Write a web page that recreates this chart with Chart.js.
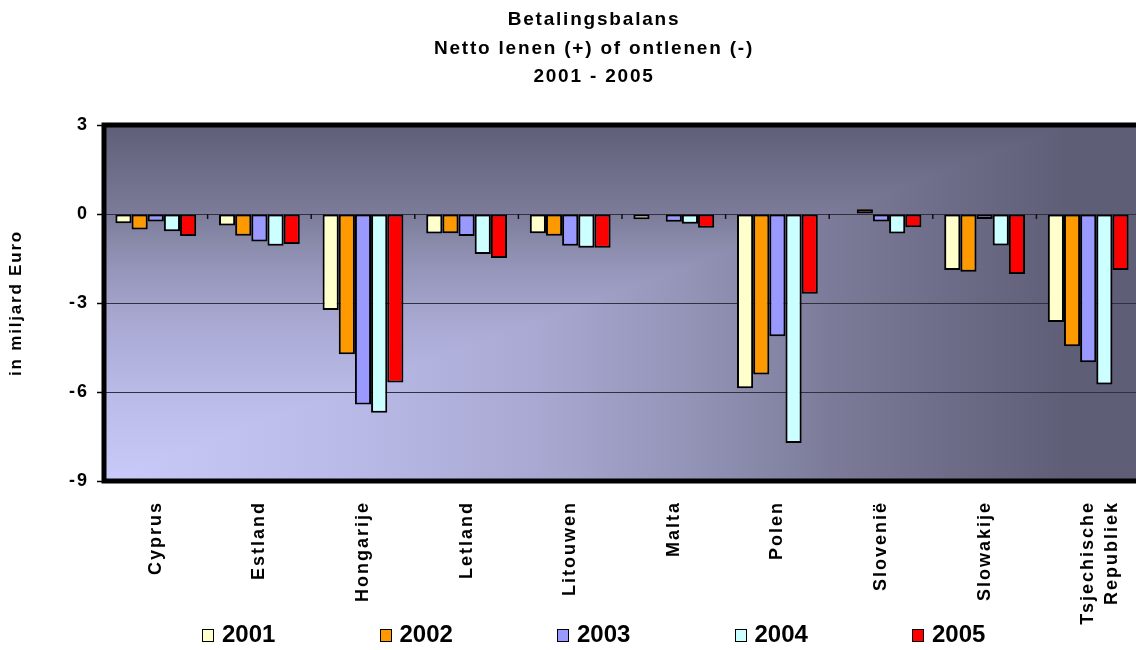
<!DOCTYPE html>
<html lang="nl">
<head>
  <meta charset="utf-8">
  <title>Betalingsbalans 2001 - 2005</title>
  <script src="https://cdn.jsdelivr.net/npm/chart.js@4.4.0/dist/chart.umd.min.js"></script>
  <style>
      html,body{margin:0;padding:0;background:#fff;overflow:hidden;}
      body{width:1136px;height:650px;position:relative;font-family:'Liberation Sans',Arial,sans-serif;}
      #chart{position:absolute;left:0;top:0;}
      #legend{position:absolute;left:202px;top:622px;display:flex;}
      #legend .item{display:flex;align-items:center;width:177.5px;}
      #legend .box{width:10px;height:11px;border:1.5px solid #000;margin-top:2px;}
      #legend .txt{margin-left:8px;font-weight:bold;font-size:24px;line-height:24px;color:#000;}
  </style>
</head>
<body>

<!-- the original chart is wider than the picture and cut off at the right -->
<canvas id="chart" width="1188" height="650"></canvas>
<div id="legend"></div>

<script>
/* ---------------- data ---------------- */
const countries = ['Cyprus','Estland','Hongarije','Letland','Litouwen',
                   'Malta','Polen','Slovenië','Slowakije',['Tsjechische','Republiek']];
const years  = ['2001','2002','2003','2004','2005'];
const colors = ['#ffffcc','#ff9900','#9999ff','#ccffff','#ff0000'];

const s2001 = [-0.31,-0.39,-3.24,-0.66,-0.65,-0.18,-5.87, null,-1.89,-3.64];
const s2002 = [-0.52,-0.73,-4.73,-0.65,-0.73, null,-5.41, 0.16,-1.95,-4.46];
const s2003 = [-0.25,-0.93,-6.42,-0.74,-1.07,-0.26,-4.12,-0.25,-0.17,-5.00];
const s2004 = [-0.58,-1.07,-6.70,-1.35,-1.14,-0.33,-7.72,-0.66,-1.06,-5.75];
const s2005 = [-0.74,-1.01,-5.68,-1.48,-1.14,-0.46,-2.69,-0.45,-2.02,-1.89];
const series = [s2001,s2002,s2003,s2004,s2005];

const yTicks = [3,0,-3,-6,-9];

const FONT = "'Liberation Sans', Arial, sans-serif";

/* ---------------- plugins ---------------- */
// Excel-like gradient from the lower left corner (rectangular)
const plotBg = {
  id:'plotBg',
  beforeDraw(chart){
    const {ctx, chartArea:{left,top,right,bottom}} = chart;
    const stops = [[0,'#cacafa'],[0.25,'#babae8'],[0.45,'#a8a8d2'],[0.6,'#9595b9'],[0.75,'#7c7c9a'],[1,'#5e5e77']];
    const W = right-left, H = bottom-top, Wg = W*0.93;
    ctx.save();
    let g = ctx.createLinearGradient(left,0,left+Wg,0);
    stops.forEach(s=>g.addColorStop(s[0],s[1]));
    ctx.fillStyle = g;
    ctx.fillRect(left,top,W,H);
    ctx.beginPath();
    ctx.moveTo(left,bottom); ctx.lineTo(left,top); ctx.lineTo(left+Wg,top); ctx.closePath();
    ctx.clip();
    g = ctx.createLinearGradient(0,bottom,0,top);
    stops.forEach(s=>g.addColorStop(s[0],s[1]));
    ctx.fillStyle = g;
    ctx.fillRect(left,top,W,H);
    ctx.restore();
    ctx.letterSpacing = '1.8px';
  },
  beforeDatasetsDraw(chart){
    // small category ticks on the zero line
    const {ctx, scales:{x,y}} = chart;
    const y0 = y.getPixelForValue(0);
    ctx.save();
    ctx.strokeStyle = '#111';
    ctx.lineWidth = 1.5;
    for(let i=1;i<countries.length;i++){
      const px = (x.getPixelForValue(i-1)+x.getPixelForValue(i))/2;
      ctx.beginPath(); ctx.moveTo(px,y0); ctx.lineTo(px,y0+5); ctx.stroke();
    }
    ctx.restore();
  },
  afterDatasetsDraw(chart){
    chart.ctx.letterSpacing = '2px';
  },
  afterDraw(chart){
    const {ctx, chartArea:{left,top,right,bottom}} = chart;
    ctx.letterSpacing = '0px';
    ctx.save();
    ctx.strokeStyle = '#000';
    ctx.lineWidth = 5;
    ctx.strokeRect(left,top,right-left,bottom-top);
    ctx.restore();
  }
};

/* ---------------- chart ---------------- */
new Chart(document.getElementById('chart'), {
  type:'bar',
  data:{
    labels:countries,
    datasets:years.map((yr,i)=>({
      label:yr,
      data:series[i],
      backgroundColor:colors[i],
      borderColor:'#000',
      borderWidth:2,
      borderSkipped:false,
      categoryPercentage:0.78,
      barPercentage:1.0
    }))
  },
  options:{
    responsive:false,
    animation:false,
    events:[],
    layout:{padding:0},
    plugins:{
      legend:{display:false},
      tooltip:{enabled:false},
      title:{
        display:true,
        text:['Betalingsbalans','Netto lenen (+) of ontlenen (-)','2001 - 2005'],
        color:'#000',
        font:{family:FONT,size:19,weight:'bold',lineHeight:1.5},
        padding:{top:6,bottom:33.5}
      }
    },
    scales:{
      x:{
        grid:{display:false,drawTicks:false},
        border:{display:false},
        ticks:{
          z:1,
          minRotation:90,maxRotation:90,autoSkip:false,
          padding:20,
          color:'#000',
          font:{family:FONT,size:18,weight:'bold',lineHeight:1.35}
        },
        afterFit(scale){ scale.height = 169; }
      },
      y:{
        min:-9,max:3,
        afterBuildTicks(scale){ scale.ticks = yTicks.map(v=>({value:v})); },
        grid:{color:'#303040',lineWidth:1,tickLength:7,tickColor:'#000',tickWidth:1.5},
        border:{display:false},
        ticks:{
          z:1,
          padding:8,
          color:'#000',
          font:{family:FONT,size:18,weight:'bold'}
        },
        title:{
          display:true,
          text:'in miljard Euro',
          color:'#000',
          font:{family:FONT,size:17,weight:'bold'},
          padding:{top:6,bottom:0}
        },
        afterFit(scale){ scale.width = 104; }
      },
      // empty right margin of the original (cut-off) chart
      yRight:{
        position:'right',
        grid:{display:false,drawTicks:false},
        border:{display:false},
        ticks:{display:false},
        afterFit(scale){ scale.width = 48; }
      }
    }
  },
  plugins:[plotBg]
});

/* ---------------- legend ---------------- */
const legend = document.getElementById('legend');
years.forEach((yr,i)=>{
  const item = document.createElement('div');
  item.className = 'item';
  item.innerHTML = '<span class="box" style="background:'+colors[i]+'"></span><span class="txt">'+yr+'</span>';
  legend.appendChild(item);
});
</script>

</body>
</html>
